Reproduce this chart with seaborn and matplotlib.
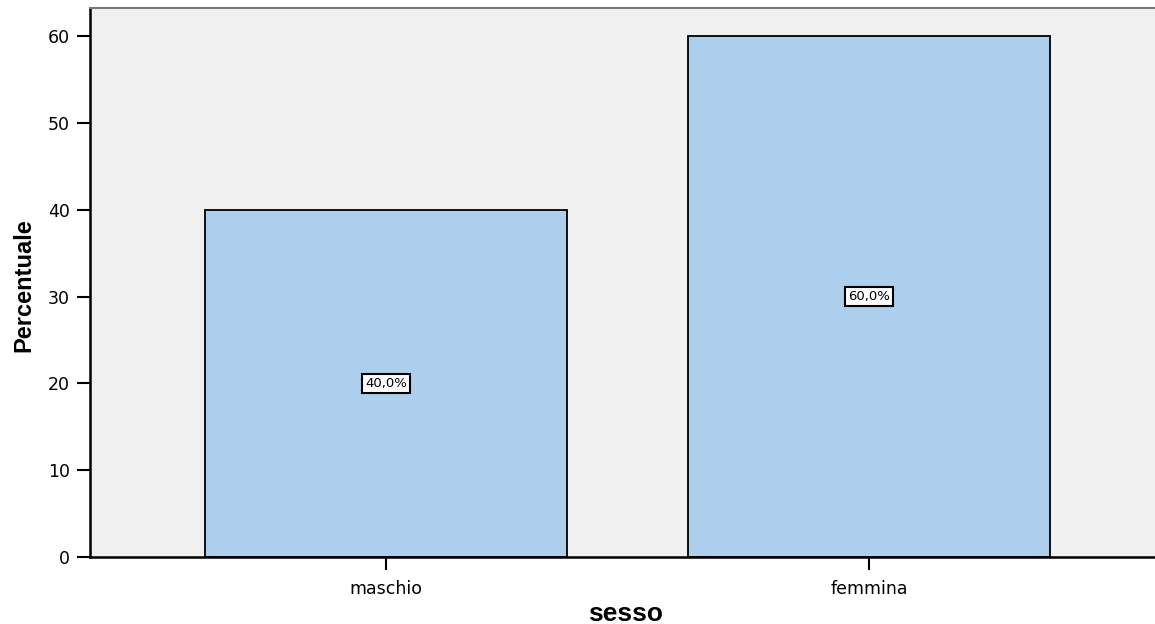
import numpy as np
import pandas as pd
import matplotlib.pyplot as plt
import seaborn as sns

categories = ["maschio", "femmina"]
percent = [40.0, 60.0]
labels = ["40,0%", "60,0%"]

df = pd.DataFrame({"sesso": categories, "Percentuale": percent})

sns.set_style("white")
plt.rcParams['font.family'] = ['DejaVu Sans']
plt.rcParams['text.color'] = 'black'
plt.rcParams['axes.labelcolor'] = 'black'
plt.rcParams['xtick.color'] = 'black'
plt.rcParams['ytick.color'] = 'black'

fig = plt.figure(figsize=(11.55, 6.24), dpi=100)
ax = fig.add_axes([0.078, 0.107, 0.922, 0.88])
ax.set_facecolor("#F0F0F0")

sns.barplot(data=df, x="sesso", y="Percentuale", color="#ADCFEE", width=0.75,
            edgecolor="black", linewidth=1.3, saturation=1, ax=ax)

# value boxes at half height
for i, (v, lab) in enumerate(zip(percent, labels)):
    ax.text(i, v / 2, lab, ha="center", va="center", fontsize=9.5,
            bbox=dict(boxstyle="square,pad=0.25", fc="white", ec="black", lw=1.5))

ax.set_xlim(-0.613, 0.592 + 1)
ax.set_ylim(0, 63.2)
ax.set_yticks([0, 10, 20, 30, 40, 50, 60])
ax.tick_params(axis="both", bottom=True, left=True, length=9.5, width=1.5,
               color="black", labelcolor="black", labelsize=12.5, direction="out")
ax.tick_params(axis="y", pad=5)
ax.tick_params(axis="x", pad=7)

for s in ["left", "bottom"]:
    ax.spines[s].set_color("black")
    ax.spines[s].set_linewidth(1.8)
ax.spines["top"].set_color("#777777")
ax.spines["top"].set_linewidth(1.5)
ax.spines["right"].set_visible(False)

ax.set_xlabel("sesso", fontsize=19, fontweight="bold", family="Liberation Sans",
              va="center")
ax.xaxis.set_label_coords(0.503, -0.104)
ax.set_ylabel("Percentuale", fontsize=17, fontweight="bold", family="Liberation Sans",
              va="center")
ax.yaxis.set_label_coords(-0.062, 0.495)

plt.savefig("out.png", dpi=100)
